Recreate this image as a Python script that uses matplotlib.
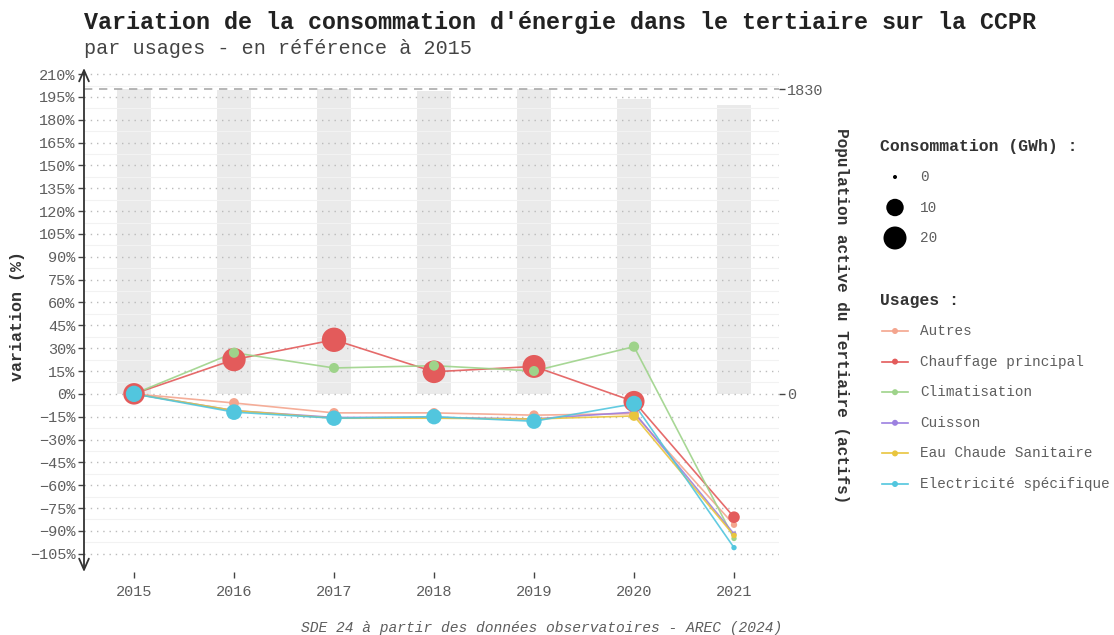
import numpy as np
import matplotlib
matplotlib.use("Agg")
import matplotlib.pyplot as plt

plt.rcParams['font.family'] = ['Liberation Mono', 'DejaVu Sans Mono']

# data
years = [2015, 2016, 2017, 2018, 2019, 2020, 2021]
usages = ["Autres", "Chauffage principal", "Climatisation", "Cuisson",
          "Eau Chaude Sanitaire", "Electricité spécifique"]
colors = ["#F4A58E", "#E35B5B", "#9ED38A", "#9C80E0", "#E9C53E", "#52C6DE"]

# variation in % relative to 2015
var_autres = [0, -6, -12.5, -12.5, -14, -13, -86]
var_chauffage = [0, 22.5, 35.5, 14.5, 18, -5, -81]
var_clim = [0, 27, 17, 18.5, 15, 31, -95]
var_cuisson = [0, -11, -15.5, -15.5, -16.5, -12, -92]
var_ecs = [0, -11, -16, -16, -16.5, -14.5, -93]
var_elec = [0, -12, -16, -15, -18, -6.5, -101]

# consumption in GWh (point size)
cons_autres = [2.0, 1.9, 1.8, 1.8, 1.7, 1.75, 0.3]
cons_chauffage = [17.0, 20.7, 23.0, 19.3, 19.9, 16.2, 3.2]
cons_clim = [1.7, 2.1, 2.0, 2.0, 2.0, 2.2, 0.1]
cons_cuisson = [0.6, 0.53, 0.5, 0.5, 0.5, 0.52, 0.05]
cons_ecs = [2.2, 1.95, 1.85, 1.85, 1.85, 1.9, 0.15]
cons_elec = [8.5, 7.5, 7.2, 7.2, 7.0, 7.9, 0.1]

variations = [var_autres, var_chauffage, var_clim, var_cuisson, var_ecs, var_elec]
consos = [cons_autres, cons_chauffage, cons_clim, cons_cuisson, cons_ecs, cons_elec]

# active population in tertiary sector (grey bars, right axis)
population = [1830, 1828, 1830, 1822, 1830, 1770, 1738]
pop_ref = 1830
size_breaks = [0, 10, 20]


def size_pts(v):
    d = 4 + 19 * np.sqrt(np.asarray(v, dtype=float) / 20)
    return (d * 0.72) ** 2


W, H = 1114, 635
fig = plt.figure(figsize=(W / 100, H / 100), dpi=100)
fig.patch.set_facecolor("white")

ylo, yhi = -117, 214
ax = fig.add_axes([84 / W, 1 - 572 / H, (779 - 84) / W, (572 - 68) / H])
ax2 = ax.twinx()
ax2.set_zorder(ax.get_zorder() - 1)
ax.patch.set_visible(False)
ax2.patch.set_facecolor("white")

# bars on the secondary axis (1830 <-> 200 %)
ax2.set_ylim(ylo * pop_ref / 200, yhi * pop_ref / 200)
ax2.bar(years, population, width=0.34, color="#EAEAEA", zorder=1)
ax2.axhline(pop_ref, color="#AAAAAA", lw=1.2, dashes=(5, 4), zorder=2)
ax2.set_yticks([0, pop_ref])
ax2.set_yticklabels(["0", str(pop_ref)])
ax2.tick_params(axis="y", length=4, width=1, color="#444444",
                labelsize=11, labelcolor="#5E5E5E", pad=2)
for s in ax2.spines.values():
    s.set_visible(False)

# lines then points
for i, (name, c) in enumerate(zip(usages, colors)):
    ax.plot(years, variations[i], color=c, lw=1.2, alpha=0.9, zorder=3 + i * 0.01)
for i, (name, c) in enumerate(zip(usages, colors)):
    ax.scatter(years, variations[i], s=size_pts(consos[i]), color=c,
               edgecolors="none", zorder=4 + i * 0.01)

ax.set_xlim(2014.5, 2021.45)
ax.set_ylim(ylo, yhi)
yt = np.arange(-105, 211, 15)
ax.set_yticks(yt)
ax.set_yticklabels([f"{v}%".replace("-", "\u2212") for v in yt])
ax.set_yticks(yt[:-1] + 7.5, minor=True)
ax.set_xticks(years)
ax.set_xticklabels([str(y) for y in years])
ax.tick_params(axis="y", which="major", length=4, width=1, color="#444444",
               labelsize=11, labelcolor="#5E5E5E", pad=2)
ax.tick_params(axis="y", which="minor", length=0)
ax.tick_params(axis="x", length=4, width=1, color="#444444",
               labelsize=11, labelcolor="#5E5E5E", pad=5)
ax.yaxis.grid(True, which="major", linestyle=(0, (1, 3.5)), color="#BBBBBB", lw=1)
ax.yaxis.grid(True, which="minor", linestyle="-", color="#F2F2F2", lw=0.8)
for s in ax.spines.values():
    s.set_visible(False)

ax.annotate("", xy=(0, 1), xytext=(0, 0), xycoords="axes fraction",
            arrowprops=dict(arrowstyle="<->,head_length=0.8,head_width=0.35",
                            color="#333333", lw=1.3, shrinkA=0, shrinkB=0),
            annotation_clip=False)

# texts
fig.text(84 / W, 1 - 22 / H,
         "Variation de la consommation d'énergie dans le tertiaire sur la CCPR",
         fontsize=16.8, fontweight="bold", color="#222222", va="center")
fig.text(84 / W, 1 - 48 / H, "par usages - en référence à 2015",
         fontsize=14.5, color="#444444", va="center")
fig.text(18 / W, 1 - 316 / H, "variation (%)", rotation=90, fontsize=12,
         fontweight="bold", color="#333333", ha="center", va="center")
fig.text(841 / W, 1 - 316 / H, "Population active du Tertiaire (actifs)",
         rotation=-90, fontsize=11.6, fontweight="bold", color="#333333",
         ha="center", va="center")
fig.text(542 / W, 1 - 628 / H,
         "SDE 24 à partir des données observatoires - AREC (2024)",
         fontsize=10.5, style="italic", color="#5E5E5E", ha="center", va="center")

# legends
lax = fig.add_axes([0, 0, 1, 1])
lax.set_xlim(0, W)
lax.set_ylim(H, 0)
lax.axis("off")

lax.text(880, 146, "Consommation (GWh) :", fontsize=11.8, fontweight="bold",
         color="#333333", va="center")
for k, b in enumerate(size_breaks):
    yy = 177 + k * 30.5
    lax.scatter([895], [yy], s=size_pts(b), color="black", edgecolors="none")
    lax.text(920, yy, str(b), fontsize=10.4, color="#5E5E5E", va="center")

lax.text(880, 300, "Usages :", fontsize=11.8, fontweight="bold",
         color="#333333", va="center")
for k, (name, c) in enumerate(zip(usages, colors)):
    yy = 331 + k * 30.6
    lax.plot([882, 908], [yy, yy], color=c, lw=1.2)
    lax.scatter([895], [yy], s=(6 * 0.72) ** 2, color=c, edgecolors="none")
    lax.text(920, yy, name, fontsize=10.4, color="#5E5E5E", va="center")

fig.savefig("out.png", dpi=100, facecolor="white")
